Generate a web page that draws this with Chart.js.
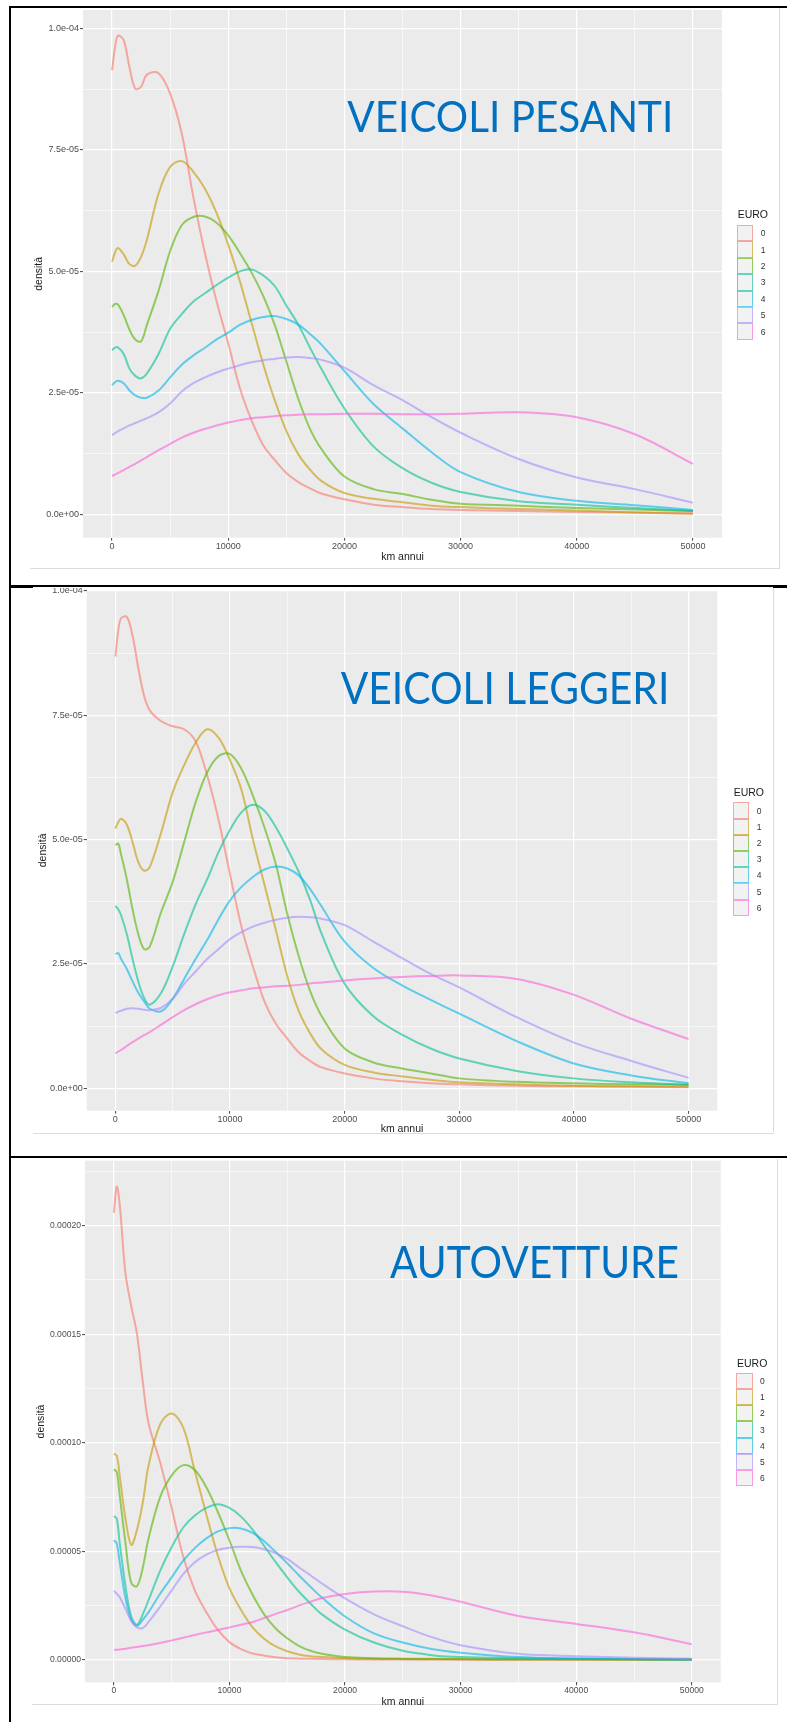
<!DOCTYPE html>
<html lang="it">
<head>
<meta charset="utf-8">
<title>Densità dei km annui per classe EURO</title>
<script src="https://cdn.jsdelivr.net/npm/chart.js@4.4.1/dist/chart.umd.min.js"></script>
<style>
  html, body { margin: 0; padding: 0; background: #fff; }
  #page { position: relative; width: 787px; height: 1722px; overflow: hidden; background: #fff; }
  #page canvas { position: absolute; z-index: 1; }
  .rule { position: absolute; background: #000; z-index: 2; }
  .edge { position: absolute; background: #dcdcdc; z-index: 0; }
  .legenda { position: absolute; z-index: 2; font-family: 'Liberation Sans', Arial, sans-serif; }
  .legenda .titolo { position: absolute; left: 1px; font-size: 10.5px; line-height: 12px; color: #1a1a1a; white-space: nowrap; }
  .legenda .chiave { position: absolute; left: 0; width: 16.5px; box-sizing: border-box; border: 1.5px solid; background: #f2f2f2; }
  .legenda .voce { position: absolute; left: 24px; font-size: 8.5px; line-height: 10px; color: #333; }
</style>
</head>
<body>
<div id="page"></div>
<script>
// asse x: km annui campionati (comune ai tre pannelli)
const kmAnnui = [0, 250, 500, 1000, 1500, 2000, 2500, 3000, 4000, 5000, 6000, 7000, 8000, 9000, 10000,
  11000, 12000, 13000, 14000, 15000, 16000, 17000, 18000, 20000, 22500, 25000, 27500, 30000, 35000, 40000, 45000, 50000];

const classiEuro = ['0', '1', '2', '3', '4', '5', '6'];
const coloriEuro = ['rgba(248,118,109,0.6)', 'rgba(196,154,0,0.6)', 'rgba(83,180,0,0.6)', 'rgba(0,192,148,0.6)',
  'rgba(0,182,235,0.6)', 'rgba(165,138,255,0.6)', 'rgba(251,97,215,0.6)'];

// densità, in unità di 1e-05
const pesanti0 = [9.14, 9.6, 9.85, 9.76, 9.2, 8.76, 8.8, 9.05, 9.08, 8.66, 7.84, 6.53, 5.37, 4.38, 3.52, 2.6, 1.94, 1.43, 1.12, 0.85, 0.67, 0.54, 0.43, 0.31, 0.2, 0.15, 0.11, 0.09, 0.07, 0.05, 0.04, 0.03];
const pesanti1 = [5.2, 5.38, 5.48, 5.35, 5.15, 5.12, 5.3, 5.65, 6.6, 7.15, 7.27, 7.05, 6.7, 6.2, 5.55, 4.8, 3.95, 3.1, 2.35, 1.72, 1.25, 0.93, 0.69, 0.44, 0.32, 0.25, 0.18, 0.15, 0.11, 0.08, 0.04, 0.01];
const pesanti2 = [4.27, 4.33, 4.32, 4.1, 3.8, 3.6, 3.56, 3.9, 4.6, 5.42, 5.95, 6.12, 6.13, 6.0, 5.74, 5.38, 4.98, 4.5, 3.9, 3.15, 2.4, 1.78, 1.35, 0.78, 0.52, 0.42, 0.3, 0.22, 0.18, 0.13, 0.1, 0.07];
const pesanti3 = [3.38, 3.43, 3.44, 3.3, 3.0, 2.85, 2.8, 2.9, 3.3, 3.82, 4.12, 4.38, 4.55, 4.72, 4.87, 5.0, 5.04, 4.92, 4.7, 4.3, 3.92, 3.45, 3.0, 2.18, 1.4, 0.95, 0.65, 0.46, 0.27, 0.2, 0.13, 0.07];
const pesanti4 = [2.66, 2.72, 2.75, 2.7, 2.55, 2.45, 2.4, 2.4, 2.55, 2.82, 3.08, 3.27, 3.43, 3.6, 3.74, 3.9, 4.0, 4.06, 4.08, 4.02, 3.91, 3.72, 3.5, 2.95, 2.27, 1.77, 1.28, 0.87, 0.46, 0.28, 0.19, 0.09];
const pesanti5 = [1.63, 1.67, 1.71, 1.77, 1.83, 1.88, 1.93, 1.98, 2.1, 2.28, 2.53, 2.7, 2.82, 2.92, 3.0, 3.07, 3.13, 3.17, 3.2, 3.23, 3.24, 3.22, 3.18, 3.02, 2.66, 2.35, 2.0, 1.68, 1.14, 0.76, 0.52, 0.24];
const pesanti6 = [0.79, 0.82, 0.85, 0.91, 0.98, 1.04, 1.11, 1.18, 1.32, 1.45, 1.58, 1.68, 1.76, 1.83, 1.89, 1.94, 1.98, 2.0, 2.02, 2.04, 2.05, 2.06, 2.06, 2.07, 2.07, 2.06, 2.06, 2.07, 2.1, 2.0, 1.65, 1.04];

const leggeri0 = [8.68, 9.2, 9.45, 9.48, 9.1, 8.45, 7.9, 7.6, 7.38, 7.28, 7.22, 6.98, 6.3, 5.4, 4.3, 3.25, 2.45, 1.75, 1.3, 1.0, 0.72, 0.55, 0.42, 0.3, 0.2, 0.14, 0.1, 0.08, 0.05, 0.04, 0.03, 0.02];
const leggeri1 = [5.22, 5.35, 5.42, 5.3, 4.95, 4.55, 4.38, 4.45, 5.15, 5.95, 6.5, 6.95, 7.22, 7.05, 6.6, 6.0, 5.0, 4.1, 3.18, 2.25, 1.55, 1.1, 0.78, 0.47, 0.32, 0.24, 0.17, 0.12, 0.08, 0.05, 0.04, 0.03];
const leggeri2 = [4.89, 4.92, 4.7, 4.2, 3.6, 3.1, 2.8, 2.85, 3.55, 4.15, 4.95, 5.75, 6.35, 6.68, 6.72, 6.42, 5.88, 5.25, 4.5, 3.5, 2.65, 1.95, 1.45, 0.8, 0.52, 0.4, 0.3, 0.2, 0.13, 0.1, 0.08, 0.07];
const leggeri3 = [3.67, 3.6, 3.48, 3.1, 2.6, 2.15, 1.82, 1.68, 1.92, 2.45, 3.1, 3.7, 4.2, 4.75, 5.2, 5.55, 5.7, 5.58, 5.25, 4.82, 4.35, 3.78, 3.1, 2.1, 1.45, 1.08, 0.8, 0.6, 0.35, 0.2, 0.12, 0.07];
const leggeri4 = [2.7, 2.72, 2.6, 2.4, 2.15, 1.92, 1.75, 1.6, 1.55, 1.8, 2.2, 2.6, 2.98, 3.4, 3.78, 4.05, 4.25, 4.4, 4.46, 4.42, 4.28, 4.0, 3.65, 2.95, 2.42, 2.07, 1.78, 1.5, 0.95, 0.5, 0.26, 0.1];
const leggeri5 = [1.51, 1.54, 1.56, 1.6, 1.61, 1.6, 1.58, 1.57, 1.62, 1.8, 2.1, 2.35, 2.6, 2.8, 3.0, 3.14, 3.25, 3.33, 3.39, 3.43, 3.45, 3.44, 3.41, 3.28, 2.95, 2.62, 2.3, 2.03, 1.43, 0.92, 0.55, 0.21];
const leggeri6 = [0.7, 0.74, 0.77, 0.85, 0.93, 1.0, 1.07, 1.13, 1.28, 1.43, 1.57, 1.69, 1.79, 1.87, 1.93, 1.97, 2.01, 2.03, 2.05, 2.06, 2.08, 2.11, 2.13, 2.17, 2.21, 2.24, 2.26, 2.27, 2.2, 1.88, 1.4, 0.99];

const auto0 = [20.6, 21.8, 21.0, 17.8, 16.3, 15.0, 12.8, 10.9, 9.1, 7.0, 4.75, 3.2, 2.2, 1.38, 0.82, 0.5, 0.3, 0.2, 0.12, 0.08, 0.06, 0.05, 0.04, 0.03, 0.02, 0.02, 0.02, 0.01, 0.01, 0.01, 0.01, 0.01];
const auto1 = [9.5, 9.4, 8.5, 6.5, 5.3, 6.0, 7.25, 8.95, 10.85, 11.35, 10.7, 8.7, 6.7, 4.8, 3.3, 2.3, 1.5, 0.98, 0.62, 0.4, 0.25, 0.17, 0.13, 0.08, 0.05, 0.04, 0.03, 0.03, 0.02, 0.02, 0.02, 0.02];
const auto2 = [8.78, 8.65, 7.6, 5.4, 3.55, 3.4, 4.25, 5.6, 7.5, 8.5, 8.97, 8.75, 7.95, 6.8, 5.5, 4.1, 3.0, 2.1, 1.45, 1.0, 0.65, 0.42, 0.28, 0.13, 0.08, 0.06, 0.05, 0.04, 0.03, 0.03, 0.02, 0.02];
const auto3 = [6.63, 6.5, 5.4, 3.4, 2.0, 1.62, 2.1, 2.75, 4.1, 5.2, 6.1, 6.65, 7.0, 7.17, 7.0, 6.6, 6.0, 5.25, 4.5, 3.8, 3.15, 2.6, 2.1, 1.4, 0.8, 0.42, 0.22, 0.13, 0.08, 0.05, 0.03, 0.02];
const auto4 = [5.52, 5.35, 4.5, 2.85, 1.85, 1.57, 1.85, 2.2, 3.05, 3.8, 4.57, 5.15, 5.6, 5.92, 6.07, 6.05, 5.85, 5.47, 4.97, 4.45, 3.9, 3.37, 2.87, 2.0, 1.22, 0.8, 0.5, 0.33, 0.13, 0.07, 0.04, 0.02];
const auto5 = [3.19, 3.05, 2.9, 2.35, 1.8, 1.5, 1.47, 1.75, 2.45, 3.2, 3.95, 4.5, 4.85, 5.07, 5.17, 5.21, 5.2, 5.1, 4.92, 4.65, 4.27, 3.9, 3.52, 2.83, 2.1, 1.55, 1.05, 0.68, 0.28, 0.17, 0.1, 0.05];
const auto6 = [0.46, 0.47, 0.48, 0.52, 0.56, 0.6, 0.64, 0.68, 0.78, 0.9, 1.02, 1.15, 1.27, 1.38, 1.5, 1.62, 1.75, 1.93, 2.12, 2.3, 2.5, 2.68, 2.85, 3.04, 3.15, 3.14, 2.97, 2.68, 2.02, 1.66, 1.27, 0.72];

// tacche
const xTacche = [0, 10000, 20000, 30000, 40000, 50000];
const xEtichette = ['0', '10000', '20000', '30000', '40000', '50000'];
const xMinori = [5000, 15000, 25000, 35000, 45000];

const yTaccheExp = [0, 2.5, 5, 7.5, 10];
const yEtichetteExp = ['0.0e+00', '2.5e-05', '5.0e-05', '7.5e-05', '1.0e-04'];
const yMinoriExp = [1.25, 3.75, 6.25, 8.75];

const yTaccheAuto = [0, 5, 10, 15, 20];
const yEtichetteAuto = ['0.00000', '0.00005', '0.00010', '0.00015', '0.00020'];
const yMinoriAuto = [2.5, 7.5, 12.5, 17.5, 22.5];

// impaginazione (coordinate di pagina)
const pannelli = [
  {
    titolo: 'VEICOLI PESANTI',
    serie: [pesanti0, pesanti1, pesanti2, pesanti3, pesanti4, pesanti5, pesanti6],
    yTacche: yTaccheExp, yEtichette: yEtichetteExp, yMinori: yMinoriExp, yMin: -0.48, yMax: 10.38,
    canvas: { left: 10, top: 8, width: 769, height: 570 },
    area: { left: 83, top: 10, right: 722, bottom: 537.7 },
    fontTacche: 9, yTitoloX: 39, xTitoloY: 556.7,
    scritta: { left: 347.3, baseline: 131.7, width: 326, size: 42 },
    legenda: { left: 736.7, titoloY: 214.3, primaY: 233.3, passo: 16.4 }
  },
  {
    titolo: 'VEICOLI LEGGERI',
    serie: [leggeri0, leggeri1, leggeri2, leggeri3, leggeri4, leggeri5, leggeri6],
    yTacche: yTaccheExp, yEtichette: yEtichetteExp, yMinori: yMinoriExp, yMin: -0.45, yMax: 10.02,
    canvas: { left: 10, top: 588, width: 763, height: 552 },
    area: { left: 86.7, top: 590, right: 717.3, bottom: 1110.7 },
    fontTacche: 9, yTitoloX: 43, xTitoloY: 1129,
    scritta: { left: 340.7, baseline: 704, width: 328.6, size: 44 },
    legenda: { left: 732.7, titoloY: 792, primaY: 810.5, passo: 16.2 }
  },
  {
    titolo: 'AUTOVETTURE',
    serie: [auto0, auto1, auto2, auto3, auto4, auto5, auto6],
    yTacche: yTaccheAuto, yEtichette: yEtichetteAuto, yMinori: yMinoriAuto, yMin: -1.03, yMax: 22.99,
    canvas: { left: 10, top: 1159, width: 767, height: 555 },
    area: { left: 85, top: 1160.7, right: 720.7, bottom: 1682.3 },
    fontTacche: 8.6, yTitoloX: 41, xTitoloY: 1701.7,
    scritta: { left: 390, baseline: 1278.4, width: 289, size: 44 },
    legenda: { left: 736, titoloY: 1362.7, primaY: 1381, passo: 16.2 }
  }
];

const FONT = "'Liberation Sans', Arial, sans-serif";

// sfondo grigio del pannello (stile ggplot)
const sfondoPlugin = {
  id: 'sfondo',
  beforeDraw(chart) {
    const { ctx, chartArea: a } = chart;
    ctx.save();
    ctx.fillStyle = '#EBEBEB';
    ctx.fillRect(a.left, a.top, a.right - a.left, a.bottom - a.top);
    ctx.restore();
  }
};

// scritta blu dentro al grafico
const scrittaPlugin = {
  id: 'scritta',
  afterDraw(chart, args, opts) {
    const ctx = chart.ctx;
    ctx.save();
    ctx.font = `${opts.size}px Lato, 'Open Sans', sans-serif`;
    ctx.fillStyle = '#0070C0';
    ctx.textBaseline = 'alphabetic';
    const w = ctx.measureText(opts.text).width;
    ctx.translate(opts.x, opts.y);
    ctx.scale(opts.width / w, 1);
    ctx.fillText(opts.text, 0, 0);
    ctx.restore();
  }
};

const page = document.getElementById('page');

function addRule(cls, left, top, width, height) {
  const d = document.createElement('div');
  d.className = cls;
  Object.assign(d.style, { left: left + 'px', top: top + 'px', width: width + 'px', height: height + 'px' });
  page.appendChild(d);
}

function creaLegenda(p) {
  const L = p.legenda;
  const box = document.createElement('div');
  box.className = 'legenda';
  box.style.left = L.left + 'px';
  box.style.top = (L.titoloY - 6) + 'px';
  const t = document.createElement('div');
  t.className = 'titolo';
  t.textContent = 'EURO';
  t.style.top = '0px';
  box.appendChild(t);
  classiEuro.forEach((nome, i) => {
    const cy = L.primaY + i * L.passo - (L.titoloY - 6);
    const k = document.createElement('div');
    k.className = 'chiave';
    k.style.top = (cy - L.passo / 2) + 'px';
    k.style.height = L.passo + 'px';
    k.style.borderColor = coloriEuro[i];
    box.appendChild(k);
    const v = document.createElement('div');
    v.className = 'voce';
    v.textContent = nome;
    v.style.top = (cy - 5) + 'px';
    box.appendChild(v);
  });
  page.appendChild(box);
}

function creaPannello(p) {
  const c = p.canvas, a = p.area;
  const canvas = document.createElement('canvas');
  canvas.width = c.width;
  canvas.height = c.height;
  Object.assign(canvas.style, { left: c.left + 'px', top: c.top + 'px', width: c.width + 'px', height: c.height + 'px' });
  page.appendChild(canvas);

  const yLarghezza = a.left - c.left;
  const xAltezza = c.top + c.height - a.bottom;
  const lhTitolo = 12.6;
  const xGriglia = [...xTacche, ...xMinori].sort((m, n) => m - n);
  const yGriglia = [...p.yTacche, ...p.yMinori].sort((m, n) => m - n);
  const fontTacche = { family: FONT, size: p.fontTacche };
  const fontTitolo = { family: FONT, size: 10.5 };

  new Chart(canvas, {
    type: 'line',
    data: {
      datasets: p.serie.map((valori, i) => ({
        label: 'EURO ' + classiEuro[i],
        data: kmAnnui.map((km, j) => ({ x: km, y: valori[j] })),
        borderColor: coloriEuro[i],
        borderWidth: 2,
        pointRadius: 0,
        fill: false,
        tension: 0.35,
        order: classiEuro.length - i
      }))
    },
    options: {
      responsive: false,
      animation: false,
      events: [],
      layout: {
        padding: { left: 0, top: a.top - c.top, right: c.left + c.width - a.right, bottom: 0 }
      },
      plugins: {
        legend: { display: false },
        tooltip: { enabled: false },
        scritta: {
          text: p.titolo,
          x: p.scritta.left - c.left,
          y: p.scritta.baseline - c.top,
          width: p.scritta.width,
          size: p.scritta.size
        }
      },
      scales: {
        x: {
          type: 'linear',
          min: -2500,
          max: 52500,
          afterBuildTicks: s => { s.ticks = xGriglia.map(v => ({ value: v })); },
          afterFit: s => { s.height = xAltezza; s.paddingLeft = 0; s.paddingRight = 0; },
          border: { display: false },
          grid: {
            color: '#FFFFFF',
            lineWidth: ctx => (ctx.tick && xTacche.includes(ctx.tick.value)) ? 1.2 : 0.6,
            tickLength: 3,
            tickWidth: 1,
            tickColor: ctx => (ctx.tick && xTacche.includes(ctx.tick.value)) ? '#444' : 'rgba(0,0,0,0)'
          },
          ticks: {
            autoSkip: false,
            maxRotation: 0,
            padding: 0.5,
            color: '#4D4D4D',
            font: fontTacche,
            callback: v => { const k = xTacche.indexOf(v); return k >= 0 ? xEtichette[k] : ''; }
          },
          title: {
            display: true,
            text: 'km annui',
            color: '#1A1A1A',
            font: fontTitolo,
            padding: { top: 0, bottom: (c.top + c.height - p.xTitoloY) - lhTitolo / 2 }
          }
        },
        y: {
          type: 'linear',
          min: p.yMin,
          max: p.yMax,
          afterBuildTicks: s => { s.ticks = yGriglia.map(v => ({ value: v })); },
          afterFit: s => { s.width = yLarghezza; s.paddingTop = 0; s.paddingBottom = 0; },
          border: { display: false },
          grid: {
            color: '#FFFFFF',
            lineWidth: ctx => (ctx.tick && p.yTacche.includes(ctx.tick.value)) ? 1.2 : 0.6,
            tickLength: 3,
            tickWidth: 1,
            tickColor: ctx => (ctx.tick && p.yTacche.includes(ctx.tick.value)) ? '#444' : 'rgba(0,0,0,0)'
          },
          ticks: {
            autoSkip: false,
            padding: 1,
            color: '#4D4D4D',
            font: fontTacche,
            callback: v => { const k = p.yTacche.indexOf(v); return k >= 0 ? p.yEtichette[k] : ''; }
          },
          title: {
            display: true,
            text: 'densità',
            color: '#1A1A1A',
            font: fontTitolo,
            padding: { top: (p.yTitoloX - c.left) - lhTitolo / 2, bottom: 0 }
          }
        }
      }
    },
    plugins: [sfondoPlugin, scrittaPlugin]
  });

  creaLegenda(p);
}

pannelli.forEach(creaPannello);

// bordi chiari delle immagini ggplot
addRule('edge', 779, 8, 1, 560);
addRule('edge', 30, 568, 750, 1);
addRule('edge', 773, 588, 1, 544);
addRule('edge', 33, 1133, 741, 1);
addRule('edge', 777, 1159, 1, 545);
addRule('edge', 32, 1704, 746, 1);

// cornici nere dei tre riquadri
addRule('rule', 9, 6, 778, 2);
addRule('rule', 9, 585, 778, 2);
addRule('rule', 9, 585, 24, 2.5);
addRule('rule', 773, 585, 14, 3);
addRule('rule', 9, 1156, 778, 2);
addRule('rule', 9, 6, 2, 1716);
</script>
</body>
</html>
